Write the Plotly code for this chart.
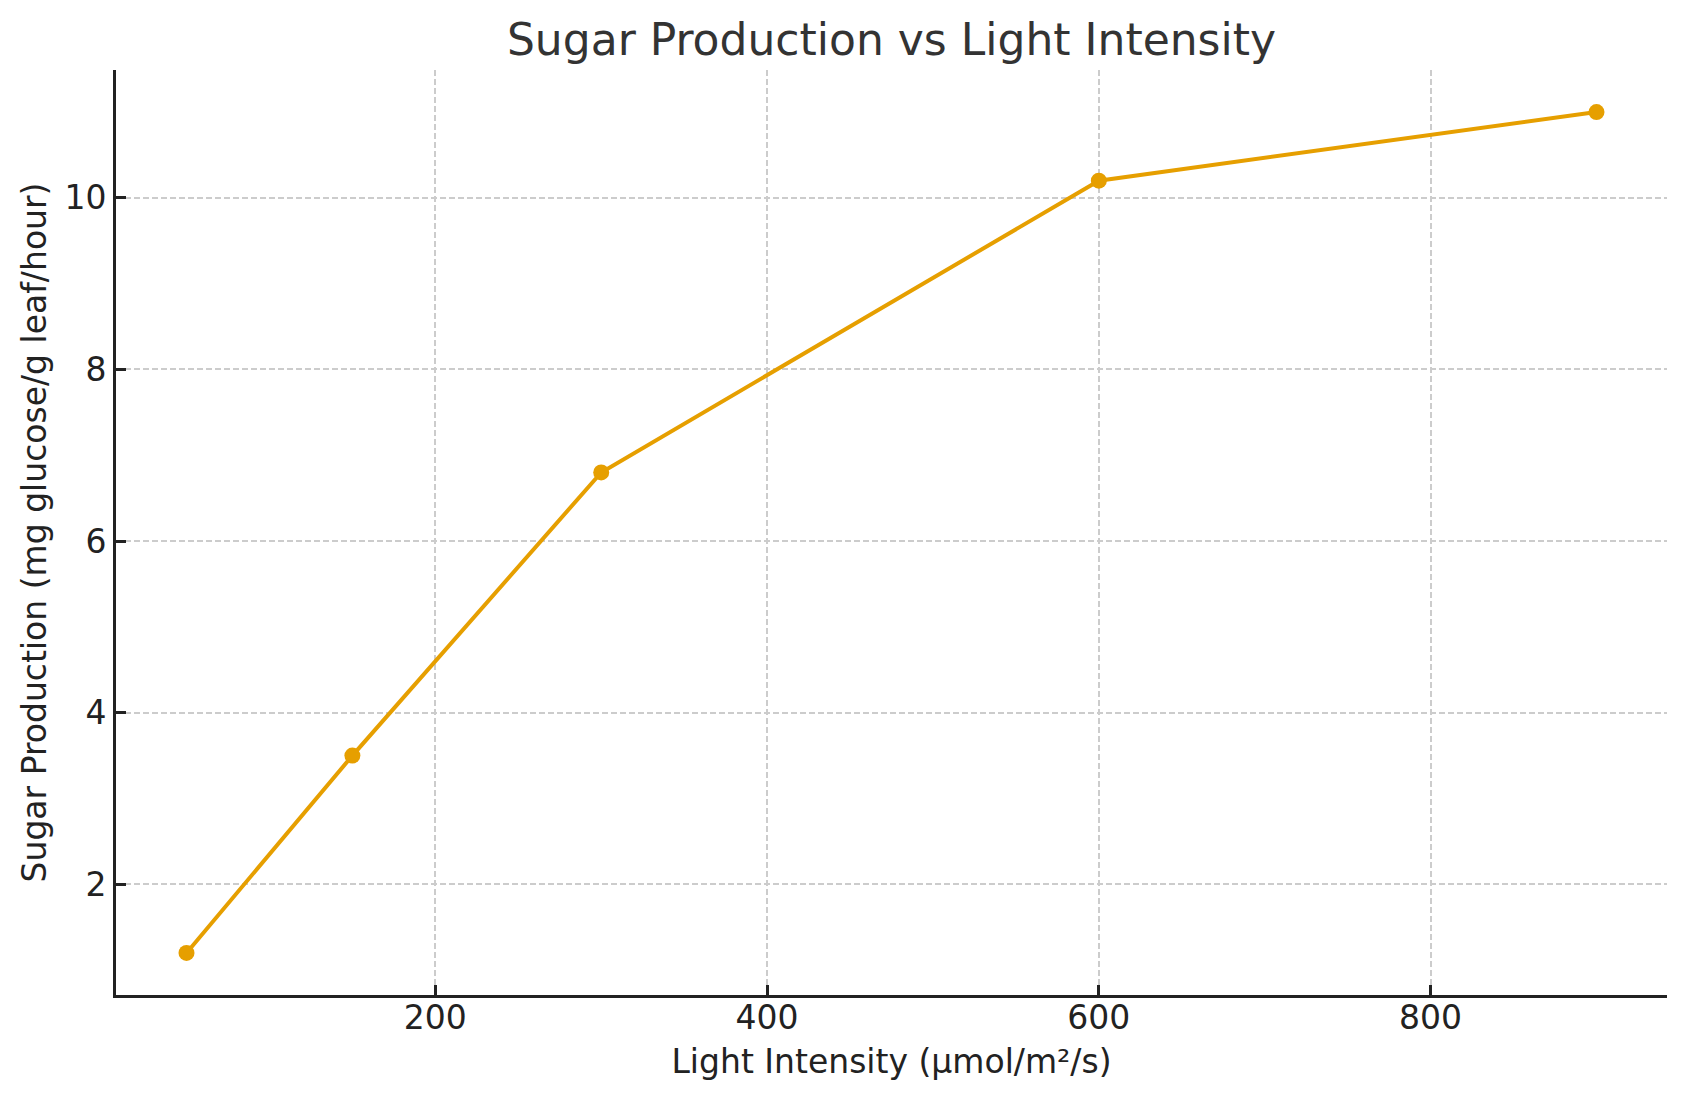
import plotly.graph_objects as go

light_intensity = [50, 150, 300, 600, 900]
sugar_production = [1.2, 3.5, 6.8, 10.2, 11.0]
x_ticks = [200, 400, 600, 800]
y_ticks = [2, 4, 6, 8, 10]

FONT = "DejaVu Sans"
fig = go.Figure()
fig.add_trace(go.Scatter(
    x=light_intensity, y=sugar_production, mode="lines+markers",
    line=dict(color="#E69F00", width=4),
    marker=dict(color="#E69F00", size=16),
    showlegend=False,
))

axis_common = dict(
    showline=True, linecolor="#222222", linewidth=3,
    ticks="inside", ticklen=10, tickwidth=3, tickcolor="#222222",
    showgrid=True, gridcolor="#cccccc", gridwidth=1.7, griddash="6px,3px",
    zeroline=False, mirror=False,
    tickfont=dict(family=FONT, size=33, color="#222222"),
)
fig.update_xaxes(range=[7.5, 942.5], tickvals=x_ticks, ticklabelstandoff=-9, **axis_common,
                 title=dict(text="Light Intensity (µmol/m²/s)", font=dict(family=FONT, size=33, color="#222222"), standoff=15))
fig.update_yaxes(range=[0.71, 11.49], tickvals=y_ticks, **axis_common,
                 title=dict(text="Sugar Production (mg glucose/g leaf/hour)", font=dict(family=FONT, size=33, color="#222222"), standoff=8))

fig.update_layout(
    width=1686, height=1101,
    margin=dict(l=116, r=19, t=70, b=106),
    plot_bgcolor="white", paper_bgcolor="white",
    title=dict(text="Sugar Production vs Light Intensity", x=0.5, xref="paper", xanchor="center",
               y=1 - 40/1101, yref="container", yanchor="middle",
               font=dict(family=FONT, size=44, color="#333333")),
)
fig.write_html("out.html")
